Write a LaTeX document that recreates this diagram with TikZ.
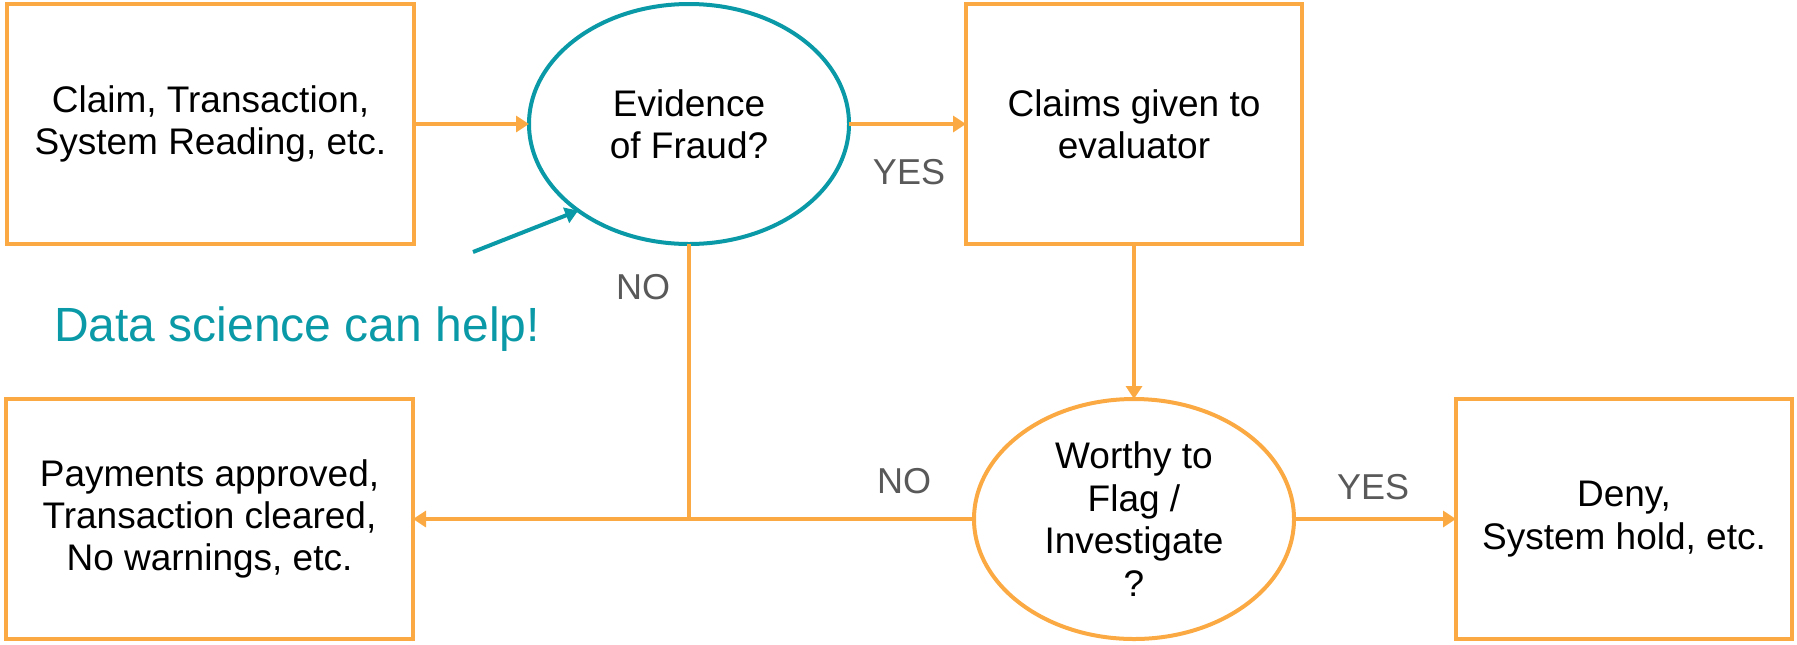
\documentclass[tikz,border=0pt]{standalone}
\usepackage{fontspec}
\setmainfont{Liberation Sans}
\usetikzlibrary{positioning,shapes.geometric,arrows.meta}

\definecolor{flowor}{HTML}{FBAA43}
\definecolor{helpteal}{HTML}{0A99A6}
\definecolor{answergray}{HTML}{595959}

\tikzset{
  boxtext/.style = {font=\fontsize{18.5}{21.2}\selectfont, align=center},
  stepbox/.style = {boxtext, draw=flowor, line width=2pt, rectangle,
                    minimum height=120pt, inner sep=0pt, outer sep=0pt},
  question/.style = {boxtext, ellipse, line width=2pt, minimum height=120pt,
                     minimum width=160pt, inner sep=0pt, outer sep=0pt},
  flow/.style = {draw=flowor, line width=2pt, -{Triangle[length=6.5pt,width=8pt]}},
  answer/.style = {text=answergray, font=\fontsize{18}{21}\selectfont}
}

\begin{document}
\begin{tikzpicture}[x=0.5pt, y=-0.5pt]
  \useasboundingbox (0,0) rectangle (1797,644);

  % top row
  \node[stepbox, minimum width=203.5pt] (claim) at (210.5,124)
    {Claim, Transaction,\\System Reading, etc.};
  \node[question, draw=helpteal, right=57.5pt of claim] (fraud)
    {Evidence\\of Fraud?};
  \node[stepbox, minimum width=168pt, right=58.5pt of fraud] (evaluator)
    {Claims given to\\evaluator};

  % bottom row
  \node[question, draw=flowor, below=77.5pt of evaluator] (worthy)
    {Worthy to\\Flag /\\Investigate\\?};
  \node[stepbox, minimum width=168pt, right=81pt of worthy] (deny)
    {Deny,\\System hold, etc.};
  \node[stepbox, minimum width=203.5pt, left=280.5pt of worthy] (approved)
    {Payments approved,\\Transaction cleared,\\No warnings, etc.};

  \coordinate (join) at (fraud.south |- worthy.west);
  \coordinate (helpstart) at (473,252);

  \node[answer] (yes1) at (909,172) {YES};
  \node[answer] (no1) at (643,287) {NO};
  \node[answer] (no2) at (904,481) {NO};
  \node[answer] (yes2) at (1373,487) {YES};
  \node[text=helpteal, font=\fontsize{24}{28}\selectfont] (help) at (297,329)
    {Data science can help!};

  \draw[flow] (claim) -- (fraud);
  \draw[flow] (fraud) -- (evaluator);
  \draw[flow] (evaluator) -- (worthy);
  \draw[flow] (worthy) -- (deny);
  \draw[flow] (worthy) -- (approved);
  \draw[draw=flowor, line width=2pt] (fraud.south) -- (join);
  \draw[draw=helpteal, line width=2pt, -{Triangle[length=6.5pt,width=8pt]}]
    (helpstart) -- (fraud.218);
\end{tikzpicture}
\end{document}
